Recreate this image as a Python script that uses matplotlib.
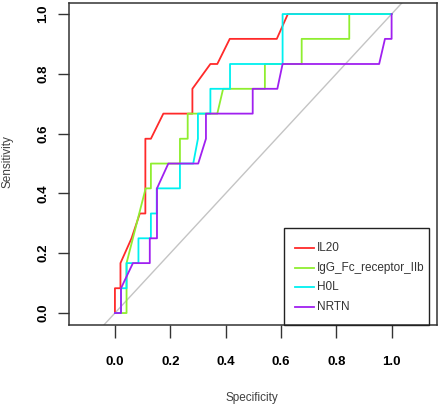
import numpy as np
import matplotlib
matplotlib.use('Agg')
import matplotlib.pyplot as plt
from matplotlib.patches import Rectangle

plt.rcParams['font.family'] = ['Liberation Sans', 'DejaVu Sans']

# ROC curves as drawn (x axis runs 0 -> 1 left to right), y = sensitivity
il20_x = [0, 0, 0.02, 0.02, 0.06, 0.09, 0.11, 0.11, 0.13, 0.175, 0.28, 0.28,
          0.345, 0.37, 0.415, 0.585, 0.625, 1.0]
il20_y = [0, 0.083, 0.083, 0.167, 0.25, 0.333, 0.333, 0.583, 0.583, 0.667,
          0.667, 0.75, 0.833, 0.833, 0.917, 0.917, 1.0, 1.0]

igg_x = [0, 0.042, 0.042, 0.111, 0.13, 0.13, 0.235, 0.235, 0.263, 0.263,
         0.37, 0.391, 0.542, 0.542, 0.675, 0.675, 0.847, 0.847, 1.0]
igg_y = [0, 0, 0.167, 0.417, 0.417, 0.5, 0.5, 0.583, 0.583, 0.667, 0.667,
         0.75, 0.75, 0.833, 0.833, 0.917, 0.917, 1.0, 1.0]

h0l_x = [0, 0.022, 0.022, 0.042, 0.042, 0.085, 0.085, 0.13, 0.13, 0.151,
         0.151, 0.235, 0.235, 0.283, 0.30, 0.30, 0.345, 0.345, 0.416, 0.416,
         0.606, 0.606, 1.0]
h0l_y = [0, 0, 0.083, 0.083, 0.167, 0.167, 0.25, 0.25, 0.333, 0.333, 0.417,
         0.417, 0.5, 0.5, 0.583, 0.667, 0.667, 0.75, 0.75, 0.833, 0.833,
         1.0, 1.0]

nrtn_x = [0, 0.022, 0.022, 0.065, 0.126, 0.126, 0.152, 0.152, 0.193, 0.301,
          0.329, 0.329, 0.498, 0.498, 0.587, 0.606, 0.955, 0.976, 1.0, 1.0]
nrtn_y = [0, 0, 0.083, 0.167, 0.167, 0.25, 0.25, 0.417, 0.5, 0.5, 0.583,
          0.667, 0.667, 0.75, 0.75, 0.833, 0.833, 0.917, 0.917, 1.0]

names = ['IL20', 'IgG_Fc_receptor_IIb', 'H0L', 'NRTN']
colors = ['#ff2a2a', '#8fee30', '#00f0f0', '#a020f0']
curves = [(il20_x, il20_y), (igg_x, igg_y), (h0l_x, h0l_y), (nrtn_x, nrtn_y)]
ticks = [0.0, 0.2, 0.4, 0.6, 0.8, 1.0]

fig = plt.figure(figsize=(4.4, 4.07), dpi=100)
ax = fig.add_axes([69 / 440, 1 - 325 / 407, 367.7 / 440, 322 / 407])

# chance line
ax.plot([-0.5, 1.5], [-0.5, 1.5], color='#c4c4c4', lw=1.0, zorder=1)

for (xs, ys), c in zip(curves, colors):
    ax.plot(xs, ys, color=c, lw=1.3, zorder=2)

ax.set_xlim(-0.166, 1.163)
ax.set_ylim(-0.04, 1.037)

ax.set_xticks(ticks)
ax.set_xticklabels(['%.1f' % t for t in ticks], fontweight='bold', fontsize=9.5)
ax.set_yticks(ticks)
ax.set_yticklabels(['%.1f' % t for t in ticks], fontweight='bold', fontsize=9.5,
                   rotation=90, va='center')
ax.tick_params(axis='x', direction='out', length=9, width=1, pad=13, color='#333333')
ax.tick_params(axis='y', direction='out', length=8, width=1, pad=6, color='#333333')
for s in ax.spines.values():
    s.set_color('#333333')
    s.set_linewidth(1.1)

fig.text(252 / 440, 1 - 398 / 407, 'Specificity', ha='center', va='center',
         fontsize=8.5, color='#404040')
fig.text(8 / 440, 1 - 162 / 407, 'Sensitivity', ha='center', va='center',
         fontsize=8.5, color='#404040', rotation=90)

# legend box (runs down to the bottom of the plot box)
ax.add_patch(Rectangle((0.585, 0.0), 0.394, 0.301, transform=ax.transAxes,
                       fill=False, edgecolor='#222222', lw=1.0, zorder=5,
                       clip_on=False))
ypos = 0.239
for name, c in zip(names, colors):
    ax.plot([0.615, 0.666], [ypos, ypos], transform=ax.transAxes, color=c,
            lw=1.3, zorder=6)
    ax.text(0.674, ypos, name, transform=ax.transAxes, va='center', ha='left',
            fontsize=8.5, color='#333333', zorder=6)
    ypos -= 0.061

fig.savefig('out.png', dpi=100)
